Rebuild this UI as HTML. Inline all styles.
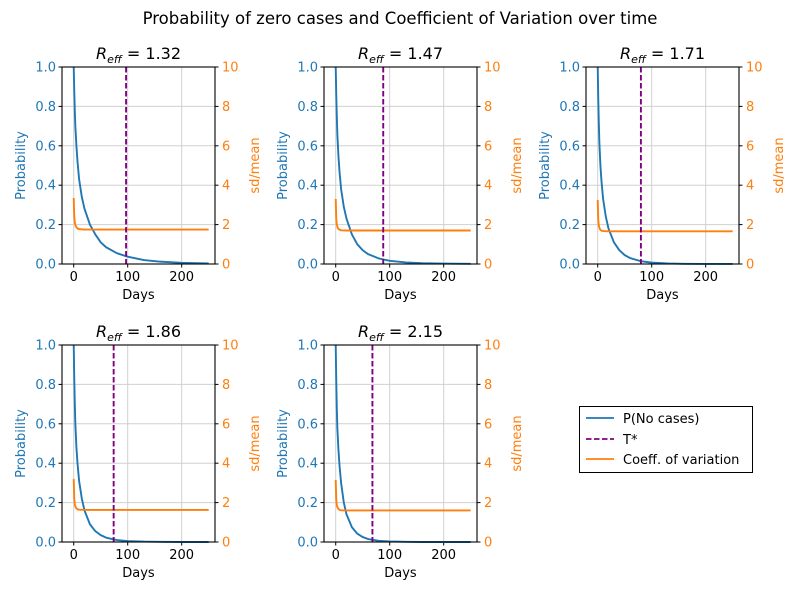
<!DOCTYPE html>
<html><head><meta charset="utf-8"><style>
body{margin:0;background:#fff}
svg{display:block;font-family:"DejaVu Sans","Liberation Sans",sans-serif}
</style></head><body>
<svg id="fig" width="800" height="600" xmlns="http://www.w3.org/2000/svg">
<text x="400" y="24" font-size="16.5" text-anchor="middle">Probability of zero cases and Coefficient of Variation over time</text>
<g>
<rect x="579.5" y="406.5" width="173" height="66" fill="#fff" stroke="#000" stroke-width="1"/>
<line x1="586" y1="418" x2="614" y2="418" stroke="#1f77b4" stroke-width="1.8"/>
<text x="623" y="423" font-size="13">P(No cases)</text>
<line x1="586" y1="439" x2="614" y2="439" stroke="purple" stroke-width="1.8" stroke-dasharray="5.5,2.5"/>
<text x="623" y="444" font-size="13">T*</text>
<line x1="586" y1="459" x2="614" y2="459" stroke="#ff7f0e" stroke-width="1.8"/>
<text x="623" y="464" font-size="13">Coeff. of variation</text>
</g>
</svg>
<script>
const rLabels=["1.32","1.47","1.71","1.86","2.15"];
const tStar=[97,88,80,74,68];
const pDays=[0,1,2,3,5,7,10,15,20,30,40,50,60,80,100,130,160,200,250];
const pVals=[
[1.0,0.88,0.78,0.70,0.6,0.52,0.43,0.34,0.28,0.2,0.15,0.11,0.085,0.055,0.037,0.02,0.012,0.006,0.003],
[1.0,0.86,0.75,0.66,0.55,0.47,0.38,0.29,0.23,0.15,0.1,0.07,0.05,0.028,0.016,0.008,0.004,0.002,0.001],
[1.0,0.84,0.72,0.62,0.5,0.42,0.33,0.24,0.18,0.11,0.07,0.045,0.03,0.014,0.007,0.003,0.001,0.0005,0.0002],
[1.0,0.83,0.70,0.60,0.48,0.40,0.31,0.22,0.16,0.09,0.055,0.035,0.022,0.01,0.005,0.002,0.001,0,0],
[1.0,0.82,0.68,0.58,0.47,0.39,0.3,0.2,0.14,0.075,0.042,0.025,0.015,0.006,0.003,0.001,0,0,0]];
const cvDays=[0,1,2,4,7,10,20,250];
const cvVals=[
[3.35,2.4,2.1,1.9,1.8,1.77,1.75,1.75],
[3.3,2.3,2.0,1.82,1.74,1.71,1.70,1.70],
[3.25,2.25,1.95,1.77,1.69,1.67,1.66,1.66],
[3.2,2.2,1.9,1.74,1.66,1.64,1.63,1.63],
[3.15,2.15,1.87,1.71,1.63,1.61,1.60,1.60]];
const xTicks=[0,100,200];
const yTicks=[0,0.2,0.4,0.6,0.8,1.0];
const y2Ticks=[0,2,4,6,8,10];
const NS="http://www.w3.org/2000/svg";
const svg=document.getElementById('fig');
function el(tag,attrs,parent){const e=document.createElementNS(NS,tag);for(const k in attrs)e.setAttribute(k,attrs[k]);(parent||svg).appendChild(e);return e;}
const lefts=[62,324,586],tops=[67,345],W=153,H=197;
const BLUE="#1f77b4",OR="#ff7f0e";
rLabels.forEach((r,i)=>{
 const L=lefts[i%3],T=tops[Math.floor(i/3)];
 const g=el('g',{});
 
 
 const xs=d=>L+(d+21.7)/283.4*W;
 const ys=v=>T+H-v*H;
 const y2s=v=>T+H-v/10*H;
 xTicks.forEach(t=>{const gl=el('line',{x1:xs(t),x2:xs(t),y1:T,y2:T+H,stroke:"#d0d0d0","stroke-width":1},g);
  el('line',{x1:xs(t),x2:xs(t),y1:T+H,y2:T+H+3.5,stroke:"#000","stroke-width":1},g);
  const tx=el('text',{x:xs(t),y:T+H+17,"font-size":13,"text-anchor":"middle"},g);tx.textContent=t;});
 yTicks.forEach(t=>{const gl=el('line',{x1:L,x2:L+W,y1:ys(t),y2:ys(t),stroke:"#d0d0d0","stroke-width":1},g);
  el('line',{x1:L-3.5,x2:L,y1:ys(t),y2:ys(t),stroke:"#000","stroke-width":1},g);
  const tx=el('text',{x:L-6,y:ys(t)+4.5,"font-size":13,"text-anchor":"end",fill:BLUE},g);tx.textContent=t.toFixed(1);});
 y2Ticks.forEach(t=>{el('line',{x1:L+W,x2:L+W+3.5,y1:y2s(t),y2:y2s(t),stroke:"#000","stroke-width":1},g);
  const tx=el('text',{x:L+W+7,y:y2s(t)+4.5,"font-size":13,fill:OR},g);tx.textContent=t;});
 const p=el('polyline',{points:pDays.map((d,j)=>xs(d)+","+ys(pVals[i][j])).join(" "),fill:"none",stroke:BLUE,"stroke-width":1.9,"stroke-linejoin":"round"},g);
 
 const c=el('polyline',{points:cvDays.map((d,j)=>xs(d)+","+y2s(cvVals[i][j])).join(" "),fill:"none",stroke:OR,"stroke-width":1.9,"stroke-linejoin":"round"},g);
 
 const v=el('line',{x1:xs(tStar[i]),x2:xs(tStar[i]),y1:T,y2:T+H,stroke:"purple","stroke-width":1.9,"stroke-dasharray":"5.5,2.5"},g);
 
 el('rect',{x:L,y:T,width:W,height:H,fill:"none",stroke:"#000","stroke-width":1.1},g);
 const ti=el('text',{x:L+W/2,y:T-8,"font-size":16,"text-anchor":"middle"},g);
 ti.innerHTML='<tspan font-style="italic">R</tspan><tspan font-style="italic" font-size="11" dy="4">eff</tspan><tspan dy="-4"> = '+r+'</tspan>';
 
 const xl=el('text',{x:L+W/2,y:T+H+35,"font-size":13,"text-anchor":"middle"},g);xl.textContent="Days";
 
 const yl=el('text',{x:0,y:0,"font-size":13,"text-anchor":"middle",fill:BLUE,transform:`translate(${L-37},${T+H/2}) rotate(-90)`},g);yl.textContent="Probability";
 
 const y2l=el('text',{x:0,y:0,"font-size":13,"text-anchor":"middle",fill:OR,transform:`translate(${L+W+44},${T+H/2}) rotate(-90)`},g);y2l.textContent="sd/mean";
 
});
</script>
</body></html>
